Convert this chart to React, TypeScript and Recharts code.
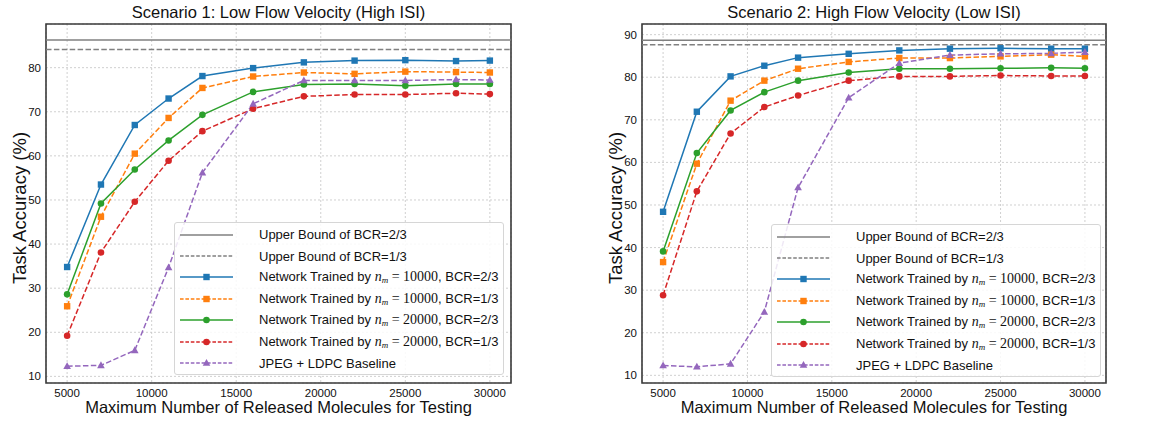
import React from "react";
import {
  LineChart,
  Line,
  XAxis,
  YAxis,
  CartesianGrid,
  ReferenceLine,
  ReferenceArea,
  Legend,
} from "recharts";

// ─── Data ──────────────────────────────────────────────────────────────────

const MOLECULES = [5000, 7000, 9000, 11000, 13000, 16000, 19000, 22000, 25000, 28000, 30000];
const X_TICKS = [5000, 10000, 15000, 20000, 25000, 30000];

// Scenario 1: low flow velocity
const S1_N10K_BCR23 = [34.8, 53.5, 67.0, 73.0, 78.1, 79.9, 81.2, 81.6, 81.7, 81.5, 81.6];
const S1_N10K_BCR13 = [25.9, 46.2, 60.5, 68.6, 75.4, 78.0, 78.9, 78.6, 79.1, 79.0, 78.9];
const S1_N20K_BCR23 = [28.6, 49.2, 56.9, 63.5, 69.3, 74.5, 76.2, 76.3, 75.9, 76.3, 76.3];
const S1_N20K_BCR13 = [19.2, 38.1, 49.6, 58.9, 65.6, 70.7, 73.5, 73.9, 73.9, 74.2, 74.0];
const S1_JPEG_LDPC = [12.3, 12.5, 15.9, 34.7, 56.2, 71.8, 77.1, 77.1, 77.1, 77.3, 77.2];
const S1_BOUND_BCR23 = 86.3;
const S1_BOUND_BCR13 = 84.1;
const S1_Y_TICKS = [10, 20, 30, 40, 50, 60, 70, 80];

// Scenario 2: high flow velocity
const S2_N10K_BCR23 = [48.4, 71.9, 80.2, 82.7, 84.6, 85.5, 86.3, 86.7, 86.8, 86.7, 86.7];
const S2_N10K_BCR13 = [36.6, 59.7, 74.5, 79.2, 82.0, 83.6, 84.5, 84.5, 84.9, 85.3, 84.9];
const S2_N20K_BCR23 = [39.1, 62.2, 72.2, 76.5, 79.2, 81.1, 82.0, 82.0, 82.1, 82.2, 82.1];
const S2_N20K_BCR13 = [28.8, 53.2, 66.8, 73.0, 75.7, 79.2, 80.2, 80.2, 80.4, 80.3, 80.3];
const S2_JPEG_LDPC = [12.3, 12.0, 12.7, 24.9, 54.1, 75.2, 83.3, 85.2, 85.5, 85.6, 85.9];
const S2_BOUND_BCR23 = 88.7;
const S2_BOUND_BCR13 = 87.6;
const S2_Y_TICKS = [10, 20, 30, 40, 50, 60, 70, 80, 90];

// ─── Styles ────────────────────────────────────────────────────────────────

const FONT = '"Liberation Sans", Arial, Helvetica, sans-serif';
const MATH_FONT = '"Liberation Serif", "DejaVu Serif", serif';
const BOUND_COLOR = "#808080";
const DASH = "5.5 2.4";

type Shape = "square" | "circle" | "triangle";

const SERIES: { key: string; color: string; dashed: boolean; shape: Shape; nm?: string; bcr?: string; label?: string }[] = [
  { key: "n10k23", color: "#1f77b4", dashed: false, shape: "square", nm: "10000", bcr: "2/3" },
  { key: "n10k13", color: "#ff7f0e", dashed: true, shape: "square", nm: "10000", bcr: "1/3" },
  { key: "n20k23", color: "#2ca02c", dashed: false, shape: "circle", nm: "20000", bcr: "2/3" },
  { key: "n20k13", color: "#d62728", dashed: true, shape: "circle", nm: "20000", bcr: "1/3" },
  { key: "jpeg", color: "#9467bd", dashed: true, shape: "triangle", label: "JPEG + LDPC Baseline" },
];

function buildRows(cols: number[][]) {
  return MOLECULES.map((x, i) => {
    const row: Record<string, number> = { x };
    SERIES.forEach((s, j) => {
      row[s.key] = cols[j][i];
    });
    return row;
  });
}

const S1_ROWS = buildRows([S1_N10K_BCR23, S1_N10K_BCR13, S1_N20K_BCR23, S1_N20K_BCR13, S1_JPEG_LDPC]);
const S2_ROWS = buildRows([S2_N10K_BCR23, S2_N10K_BCR13, S2_N20K_BCR23, S2_N20K_BCR13, S2_JPEG_LDPC]);

// ─── Markers ───────────────────────────────────────────────────────────────

function Marker({ cx, cy, shape, color }: { cx?: number; cy?: number; shape: Shape; color: string }) {
  if (cx == null || cy == null) return null;
  if (shape === "square") {
    return <rect x={cx - 3.2} y={cy - 3.2} width={6.4} height={6.4} fill={color} />;
  }
  if (shape === "triangle") {
    return <polygon points={`${cx},${cy - 4} ${cx - 3.8},${cy + 2.8} ${cx + 3.8},${cy + 2.8}`} fill={color} />;
  }
  return <circle cx={cx} cy={cy} r={3.3} fill={color} />;
}

// ─── Legend ────────────────────────────────────────────────────────────────

function LegendBox() {
  const rows = [
    { id: "b23", color: BOUND_COLOR, dashed: false, shape: null as Shape | null, text: <>Upper Bound of BCR=2/3</> },
    { id: "b13", color: BOUND_COLOR, dashed: true, shape: null as Shape | null, text: <>Upper Bound of BCR=1/3</> },
    ...SERIES.map((s) => ({
      id: s.key,
      color: s.color,
      dashed: s.dashed,
      shape: s.shape as Shape | null,
      text: s.label ? (
        <>{s.label}</>
      ) : (
        <>
          Network Trained by{" "}
          <span style={{ fontFamily: MATH_FONT, fontSize: 14 }}>
            <i>n</i>
            <sub style={{ fontSize: 9, fontStyle: "italic", verticalAlign: -2 }}>m</sub>
            {" = "}
            {s.nm}
          </span>
          , BCR={s.bcr}
        </>
      ),
    })),
  ];
  return (
    <div
      style={{
        width: 330,
        height: 153,
        boxSizing: "border-box",
        background: "rgba(255,255,255,0.85)",
        border: "1px solid #d6d6d6",
        borderRadius: 3,
        paddingTop: 1,
        fontFamily: FONT,
        fontSize: 13,
        color: "#111",
      }}
    >
      {rows.map((r) => (
        <div key={r.id} style={{ display: "flex", alignItems: "center", height: 21.4, whiteSpace: "nowrap" }}>
          <svg width={60} height={12} style={{ flex: "none" }}>
            <line x1={5} x2={58} y1={6} y2={6} stroke={r.color} strokeWidth={1.5} strokeDasharray={r.dashed ? "3.6 1.8" : undefined} />
            {r.shape && <Marker cx={31.5} cy={6} shape={r.shape} color={r.color} />}
          </svg>
          <span style={{ marginLeft: 24 }}>{r.text}</span>
        </div>
      ))}
    </div>
  );
}

// ─── Y-axis title ──────────────────────────────────────────────────────────

function YTitle({ viewBox, dx }: { viewBox?: { x: number; y: number; width: number; height: number }; dx: number }) {
  if (!viewBox) return null;
  const cx = viewBox.x + viewBox.width / 2 + dx;
  const cy = viewBox.y + viewBox.height / 2 + 4.5;
  return (
    <text
      x={cx}
      y={cy}
      transform={`rotate(-90, ${cx}, ${cy})`}
      textAnchor="middle"
      dy="0.36em"
      style={{ fontSize: 18.5, fill: "#111", fontFamily: FONT }}
    >
      Task Accuracy (%)
    </text>
  );
}

// ─── Panel ─────────────────────────────────────────────────────────────────

function Panel({
  left,
  width,
  yAxisWidth,
  rightMargin,
  title,
  rows,
  yDomain,
  yTicks,
  bound23,
  bound13,
  legendLeft,
  legendTop,
  yLabelDx,
}: {
  left: number;
  width: number;
  yAxisWidth: number;
  rightMargin: number;
  title: string;
  rows: Record<string, number>[];
  yDomain: [number, number];
  yTicks: number[];
  bound23: number;
  bound13: number;
  legendLeft: number;
  legendTop: number;
  yLabelDx: number;
}) {
  const plotLeft = yAxisWidth;
  const plotWidth = width - yAxisWidth - rightMargin;
  const tickStyle = { fontSize: 11.5, fill: "#111", fontFamily: FONT };
  return (
    <div style={{ position: "absolute", left, top: 0, width, height: 421 }}>
      <div
        style={{
          position: "absolute",
          left: plotLeft,
          width: plotWidth,
          top: 3.5,
          textAlign: "center",
          fontFamily: FONT,
          fontSize: 16.5,
          lineHeight: 1,
          color: "#111",
          whiteSpace: "nowrap",
        }}
      >
        {title}
      </div>
      <LineChart width={width} height={421} data={rows} margin={{ top: 24, right: rightMargin, bottom: 0, left: 0 }}>
        <CartesianGrid stroke="#c4c4c4" strokeWidth={0.8} strokeDasharray="2 2" />
        <XAxis
          dataKey="x"
          type="number"
          domain={[3750, 31250]}
          ticks={X_TICKS}
          allowDataOverflow
          height={38}
          axisLine={false}
          tickLine={false}
          tickSize={4}
          tickMargin={2}
          tick={tickStyle}
          label={{
            value: "Maximum Number of Released Molecules for Testing",
            position: "insideBottom",
            offset: 8,
            style: { fontSize: 16.5, fill: "#111", fontFamily: FONT },
          }}
        />
        <YAxis
          type="number"
          domain={yDomain}
          ticks={yTicks}
          allowDataOverflow
          width={yAxisWidth}
          axisLine={false}
          tickLine={false}
          tickSize={3}
          tickMargin={2}
          tick={tickStyle}
          label={(p: any) => <YTitle viewBox={p.viewBox} dx={yLabelDx} />}
        />
        <ReferenceLine y={bound23} stroke={BOUND_COLOR} strokeWidth={1.5} />
        <ReferenceLine y={bound13} stroke={BOUND_COLOR} strokeWidth={1.5} strokeDasharray={DASH} />
        {SERIES.map((s) => (
          <Line
            key={s.key}
            type="linear"
            dataKey={s.key}
            stroke={s.color}
            strokeWidth={1.5}
            strokeDasharray={s.dashed ? DASH : undefined}
            isAnimationActive={false}
            activeDot={false}
            dot={(p: { cx?: number; cy?: number; index?: number }) => (
              <Marker key={`${s.key}-${p.index}`} cx={p.cx} cy={p.cy} shape={s.shape} color={s.color} />
            )}
          />
        ))}
        <ReferenceArea
          x1={3750}
          x2={31250}
          y1={yDomain[0]}
          y2={yDomain[1]}
          fill="none"
          fillOpacity={0}
          stroke="#3a3a3a"
          strokeWidth={1.6}
        />
        <Legend
          layout="vertical"
          align="center"
          verticalAlign="middle"
          content={() => <LegendBox />}
          wrapperStyle={{ position: "absolute", left: legendLeft, top: legendTop, width: 330, height: 153 }}
        />
      </LineChart>
    </div>
  );
}

// ─── App ───────────────────────────────────────────────────────────────────

export default function App() {
  return (
    <div style={{ position: "absolute", left: 0, top: 0, width: 1166, height: 421, background: "#fff" }}>
      <Panel
        left={0}
        width={580}
        yAxisWidth={46}
        rightMargin={69}
        title="Scenario 1: Low Flow Velocity (High ISI)"
        rows={S1_ROWS}
        yDomain={[8.5, 89.9]}
        yTicks={S1_Y_TICKS}
        bound23={S1_BOUND_BCR23}
        bound13={S1_BOUND_BCR13}
        legendLeft={174}
        legendTop={222}
        yLabelDx={-3.5}
      />
      <Panel
        left={585}
        width={581}
        yAxisWidth={57}
        rightMargin={60}
        title="Scenario 2: High Flow Velocity (Low ISI)"
        rows={S2_ROWS}
        yDomain={[8.2, 92.5]}
        yTicks={S2_Y_TICKS}
        bound23={S2_BOUND_BCR23}
        bound13={S2_BOUND_BCR13}
        legendLeft={186}
        legendTop={224}
        yLabelDx={1.5}
      />
    </div>
  );
}
